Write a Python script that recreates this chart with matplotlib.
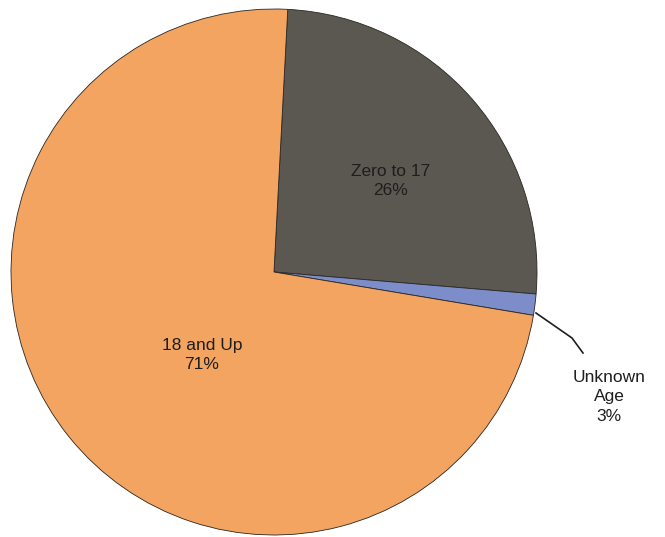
import matplotlib.pyplot as plt

# slice sizes as seen on the chart, printed shares as labelled
groups = ["Zero to 17", "Unknown\nAge", "18 and Up"]
sizes = [25.5, 1.3, 73.2]
shares = [26, 3, 71]
colors = ["#5b5751", "#7d8dc9", "#f2a460"]

W, H = 665, 537
fig = plt.figure(figsize=(W / 100, H / 100), dpi=100)
ax = fig.add_axes([0, 0, 1, 1])

ax.pie(sizes, colors=colors, startangle=87, counterclock=False,
       center=(274, H - 272), radius=263, frame=True,
       wedgeprops=dict(edgecolor="#2a2622", linewidth=0.6))
ax.set_xlim(0, W)
ax.set_ylim(0, H)
ax.axis("off")

font = dict(family=["Liberation Sans", "DejaVu Sans"], fontsize=12.5,
            color="#1e1e1e", ha="center", va="center", linespacing=1.35)
ax.text(391, H - 181, f"{groups[0]}\n{shares[0]}%", **font)
ax.text(202, H - 355, f"{groups[2]}\n{shares[2]}%", **font)
ax.text(609, H - 397, f"{groups[1]}\n{shares[1]}%", **font)

# leader line for the small slice
ax.plot([536, 572, 583], [H - 313, H - 338, H - 353], color="#1e1e1e", lw=1.2)

fig.savefig("out.png", dpi=100)
